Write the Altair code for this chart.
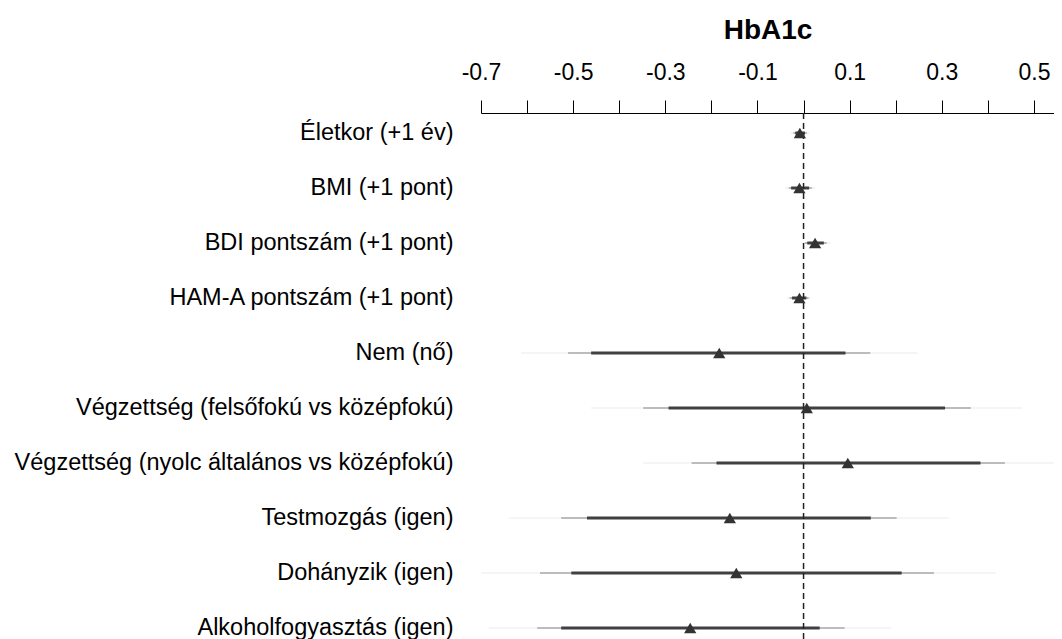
import json
import altair as alt
import pandas as pd

categories = [
    "Életkor (+1 év)",
    "BMI (+1 pont)",
    "BDI pontszám (+1 pont)",
    "HAM-A pontszám (+1 pont)",
    "Nem (nő)",
    "Végzettség (felsőfokú vs középfokú)",
    "Végzettség (nyolc általános vs középfokú)",
    "Testmozgás (igen)",
    "Dohányzik (igen)",
    "Alkoholfogyasztás (igen)",
]
estimate = [-0.008, -0.009, 0.025, -0.009, -0.183, 0.007, 0.096, -0.160, -0.146, -0.246]
outer_lo = [-0.028, -0.040, -0.002, -0.036, -0.613, -0.461, -0.348, -0.640, -0.704, -0.683]
outer_hi = [0.012, 0.025, 0.058, 0.016, 0.248, 0.474, 0.570, 0.315, 0.417, 0.191]
mid_lo = [-0.022, -0.032, 0.003, -0.030, -0.511, -0.348, -0.243, -0.526, -0.572, -0.578]
mid_hi = [0.007, 0.018, 0.050, 0.011, 0.145, 0.363, 0.437, 0.202, 0.283, 0.089]
inner_lo = [-0.018, -0.027, 0.008, -0.025, -0.461, -0.293, -0.189, -0.470, -0.504, -0.526]
inner_hi = [0.003, 0.012, 0.044, 0.006, 0.091, 0.307, 0.384, 0.146, 0.213, 0.035]
x_ticks = [-0.7, -0.6, -0.5, -0.4, -0.3, -0.2, -0.1, 0.0, 0.1, 0.2, 0.3, 0.4, 0.5]

df = pd.DataFrame({
    "idx": list(range(len(categories))),
    "label": categories,
    "est": estimate,
    "olo": outer_lo, "ohi": outer_hi,
    "mlo": mid_lo, "mhi": mid_hi,
    "ilo": inner_lo, "ihi": inner_hi,
})

FONT = "Liberation Sans"
W, H = 573, 526

xscale = alt.Scale(domain=[-0.7, 0.5435], nice=False, zero=False)
yscale = alt.Scale(domain=[-0.3636, 9.2], nice=False, zero=False, reverse=True)

label_js = json.dumps(categories, ensure_ascii=False)

xaxis = alt.Axis(
    orient="top", values=x_ticks, title="HbA1c",
    labelExpr="abs(round(datum.value*10)) % 2 == 1 ? replace(format(datum.value, '.1f'), '\u2212', '-') : ''",
    tickSize=13, tickColor="black", tickWidth=1, domainColor="black", domainWidth=1,
    labelFont=FONT, labelFontSize=23, labelColor="black", labelPadding=16,
    titleFont=FONT, titleFontSize=28, titleFontWeight="bold", titleColor="black",
    titlePadding=17, grid=False, labelFlush=False, labelOverlap=False,
)
yaxis = alt.Axis(
    values=list(range(len(categories))), title=None,
    labelExpr=label_js + "[datum.value]",
    domain=False, ticks=False, grid=False,
    labelFont=FONT, labelFontSize=23.5, labelColor="black", labelPadding=28,
    labelOverlap=False, labelFlush=False, labelLimit=0,
)

base = alt.Chart(df)

outer = base.mark_rule(color="#ebebeb", strokeWidth=1.2, clip=True).encode(
    x=alt.X("olo:Q", scale=xscale, axis=xaxis),
    x2="ohi:Q",
    y=alt.Y("idx:Q", scale=yscale, axis=yaxis),
)
mid = base.mark_rule(color="#a8a8a8", strokeWidth=1.6, clip=True).encode(
    x=alt.X("mlo:Q", scale=xscale), x2="mhi:Q",
    y=alt.Y("idx:Q", scale=yscale),
)
inner = base.mark_rule(color="#404040", strokeWidth=3, clip=True).encode(
    x=alt.X("ilo:Q", scale=xscale), x2="ihi:Q",
    y=alt.Y("idx:Q", scale=yscale),
)
zero_line = alt.Chart(pd.DataFrame({"z": [0.0]})).mark_rule(
    color="#222222", strokeWidth=1.5, strokeDash=[6, 4]
).encode(
    x=alt.X("z:Q", scale=xscale),
    y=alt.value(0), y2=alt.value(H),
)
points = base.mark_point(shape="triangle-up", filled=True, color="#333333", opacity=1, size=150).encode(
    x=alt.X("est:Q", scale=xscale),
    y=alt.Y("idx:Q", scale=yscale),
)

chart = alt.layer(outer, mid, inner, zero_line, points).properties(
    width=W, height=H,
    autosize=alt.AutoSizeParams(type="none"),
    padding={"left": 473, "top": 105, "right": 0, "bottom": 0},
).configure(background="white").configure_view(stroke=None)

chart.save("out.html", embed_options={"renderer": "svg", "actions": False})
